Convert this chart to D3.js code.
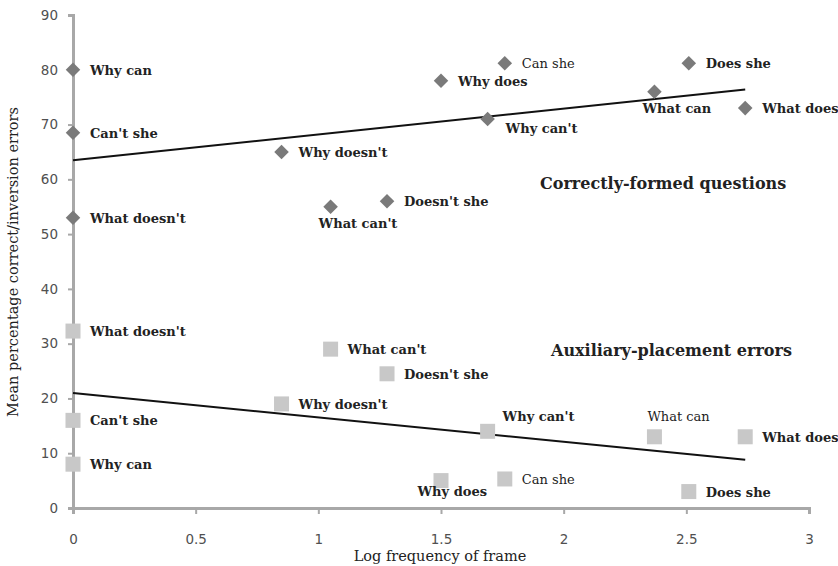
<!DOCTYPE html>
<html>
<head>
    <meta charset="utf-8"/>
    <title>frame frequency</title>
    <script src="https://d3js.org/d3.v7.min.js"></script>
    <style>
        body { margin: 0; background: #fff; }
        .tick text { font-family: "DejaVu Sans", sans-serif; font-size: 13.5px; fill: #505050; }
        .lbl { font-family: "DejaVu Serif", serif; font-size: 13px; fill: #222; }
        .note { font-family: "DejaVu Serif", serif; font-size: 16px; font-weight: bold; fill: #222; }
        .title { font-family: "DejaVu Serif", serif; font-size: 14.5px; fill: #222; }
    </style>
</head>
<body>
<div id="chart"></div>
<script>
// frames, shared by both series
var frames = ["Why can", "Can't she", "What doesn't", "Why doesn't", "What can't", "Doesn't she",
              "Why does", "Can she", "Why can't", "What can", "Does she", "What does"];
var logFreq = [0, 0, 0, 0.85, 1.05, 1.28, 1.5, 1.76, 1.69, 2.37, 2.51, 2.74];
var correct = [80, 68.5, 53, 65, 55, 56, 78, 81.2, 71, 76, 81.2, 73];
var placement = [8, 16, 32.3, 19, 29, 24.5, 5, 5.3, 14, 13, 3, 13];

// fitted trend lines [intercept, slope]
var correctFit = [63.5, 4.7];
var placementFit = [21, -4.45];

var xTicks = [0, 0.5, 1, 1.5, 2, 2.5, 3];
var yTicks = [0, 10, 20, 30, 40, 50, 60, 70, 80, 90];

// label placement per point: r = right, b = below, a = above, bl = below-left
var correctPos = ["r", "r", "r", "r", "b", "r", "r", "r", "rb", "b", "r", "r"];
var placementPos = ["r", "r", "r", "r", "r", "r", "bl", "r", "ra", "a", "r", "r"];
var correctBold = [1, 1, 1, 1, 1, 1, 1, 0, 1, 1, 1, 1];
var placementBold = [1, 1, 1, 1, 1, 1, 1, 0, 1, 0, 1, 1];

var width = 838, height = 566;
var svg = d3.select("#chart").append("svg")
    .attr("width", width).attr("height", height);

var x = d3.scaleLinear().domain([0, 3]).range([73, 809]);
var y = d3.scaleLinear().domain([0, 90]).range([508, 15]);

// axes
var xAxis = svg.append("g")
    .attr("transform", "translate(0,508)")
    .call(d3.axisBottom(x).tickValues(xTicks).tickSize(6).tickPadding(20)
        .tickFormat(function(d) { return d; }));
var yAxis = svg.append("g")
    .attr("transform", "translate(73,0)")
    .call(d3.axisLeft(y).tickValues(yTicks).tickSize(5).tickPadding(10));

[xAxis, yAxis].forEach(function(g) {
    g.select(".domain").attr("stroke", "#a8a8a8").attr("stroke-width", 3);
    g.selectAll(".tick line").attr("stroke", "#a8a8a8").attr("stroke-width", 2);
});

// trend lines
function fitLine(fit) {
    svg.append("line")
        .attr("x1", x(0)).attr("y1", y(fit[0]))
        .attr("x2", x(2.74)).attr("y2", y(fit[0] + fit[1] * 2.74))
        .attr("stroke", "#111").attr("stroke-width", 2);
}
fitLine(correctFit);
fitLine(placementFit);

// markers
svg.selectAll(".dia").data(correct).enter().append("path")
    .attr("class", "dia")
    .attr("d", d3.symbol().type(d3.symbolDiamond2).size(135))
    .attr("transform", function(d, i) { return "translate(" + x(logFreq[i]) + "," + y(d) + ")"; })
    .attr("fill", "#7a7a7a");

svg.selectAll(".sq").data(placement).enter().append("rect")
    .attr("class", "sq")
    .attr("x", function(d, i) { return x(logFreq[i]) - 7.5; })
    .attr("y", function(d) { return y(d) - 7.5; })
    .attr("width", 15).attr("height", 15)
    .attr("fill", "#c8c8c8");

// point labels
function labels(vals, pos, bold) {
    vals.forEach(function(v, i) {
        var px = x(logFreq[i]), py = y(v), p = pos[i];
        var t = svg.append("text").attr("class", "lbl").text(frames[i])
            .attr("font-weight", bold[i] ? "bold" : "normal");
        if (p === "r") t.attr("x", px + 17).attr("y", py + 5);
        else if (p === "rb") t.attr("x", px + 18).attr("y", py + 14);
        else if (p === "ra") t.attr("x", px + 15).attr("y", py - 10);
        else if (p === "b") t.attr("x", px - 12).attr("y", py + 21);
        else if (p === "a") t.attr("x", px - 7).attr("y", py - 16);
        else if (p === "bl") t.attr("x", px + 46).attr("y", py + 15).attr("text-anchor", "end");
    });
}
labels(correct, correctPos, correctBold);
labels(placement, placementPos, placementBold);

// series notes
svg.append("text").attr("class", "note").attr("x", 540).attr("y", 189).text("Correctly-formed questions");
svg.append("text").attr("class", "note").attr("x", 551).attr("y", 356).text("Auxiliary-placement errors");

// axis titles
svg.append("text").attr("class", "title")
    .attr("x", 440).attr("y", 561).attr("text-anchor", "middle")
    .text("Log frequency of frame");
svg.append("text").attr("class", "title")
    .attr("transform", "translate(18,262) rotate(-90)").attr("text-anchor", "middle")
    .text("Mean percentage correct/inversion errors");
</script>
</body>
</html>
